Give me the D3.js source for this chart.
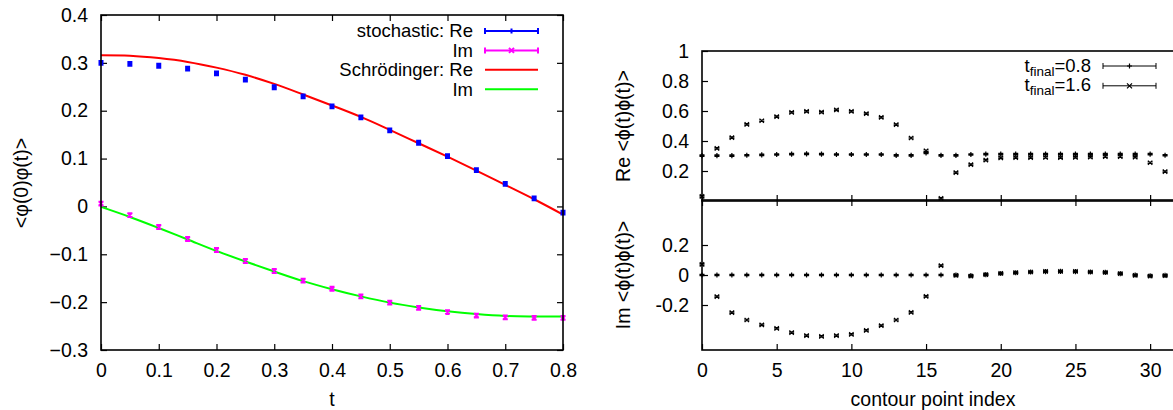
<!DOCTYPE html>
<html>
<head>
<meta charset="utf-8">
<script src="https://cdn.jsdelivr.net/npm/d3@7"></script>
<style>
  body { margin: 0; background: #fff; }
  svg { display: block; font-family: "Liberation Sans", Arial, sans-serif; }
  text { fill: #000; }
</style>
</head>
<body>
<script>
// left panel: <phi(0)phi(t)>
var tStoch = [0, 0.05, 0.1, 0.15, 0.2, 0.25, 0.3, 0.35, 0.4, 0.45, 0.5, 0.55, 0.6, 0.65, 0.7, 0.75, 0.8];
var stochRe = [0.300, 0.298, 0.294, 0.288, 0.278, 0.265, 0.249, 0.230, 0.209, 0.186, 0.159, 0.133, 0.105, 0.076, 0.047, 0.017, -0.013];
var stochIm = [0.006, -0.018, -0.043, -0.068, -0.091, -0.114, -0.135, -0.155, -0.172, -0.188, -0.201, -0.212, -0.221, -0.228, -0.232, -0.233, -0.233];
var stochErr = 0.004;
var tSchr = [0, 0.05, 0.1, 0.15, 0.2, 0.25, 0.3, 0.35, 0.4, 0.45, 0.5, 0.55, 0.6, 0.65, 0.7, 0.75, 0.8];
var schrRe = [0.316, 0.315, 0.310, 0.302, 0.290, 0.275, 0.256, 0.234, 0.211, 0.187, 0.160, 0.132, 0.104, 0.075, 0.045, 0.015, -0.017];
var schrIm = [-0.001, -0.022, -0.045, -0.069, -0.093, -0.115, -0.136, -0.156, -0.173, -0.188, -0.201, -0.211, -0.219, -0.225, -0.229, -0.230, -0.230];
var leftXTicks = [0, 0.1, 0.2, 0.3, 0.4, 0.5, 0.6, 0.7, 0.8];
var leftYTicks = [-0.3, -0.2, -0.1, 0, 0.1, 0.2, 0.3, 0.4];

// right panel: contour points
var contourIdx = d3.range(32);
var re08 = [0.302, 0.302, 0.303, 0.305, 0.307, 0.310, 0.312, 0.314, 0.312, 0.310, 0.310, 0.310, 0.310, 0.304, 0.304, 0.320, 0.304, 0.304, 0.310, 0.313, 0.313, 0.313, 0.313, 0.313, 0.313, 0.313, 0.313, 0.313, 0.313, 0.313, 0.313, 0.305];
var re16 = [0.031, 0.351, 0.422, 0.511, 0.535, 0.562, 0.591, 0.598, 0.593, 0.607, 0.598, 0.582, 0.558, 0.509, 0.420, 0.335, 0.018, 0.189, 0.242, 0.273, 0.287, 0.289, 0.289, 0.290, 0.289, 0.291, 0.293, 0.295, 0.295, 0.292, 0.255, 0.196];
var im08 = [0, 0, 0, 0, 0, 0, 0, 0, 0, 0, 0, 0, 0, 0, 0, 0, 0, 0.000, -0.004, 0.003, 0.010, 0.015, 0.020, 0.023, 0.024, 0.023, 0.020, 0.017, 0.009, 0.000, -0.005, -0.003];
var im16 = [0.071, -0.144, -0.251, -0.300, -0.333, -0.356, -0.384, -0.404, -0.409, -0.404, -0.396, -0.369, -0.338, -0.300, -0.249, -0.142, 0.062, -0.002, -0.007, 0.002, 0.011, 0.016, 0.020, 0.024, 0.024, 0.024, 0.020, 0.018, 0.009, -0.002, -0.007, -0.004];
var contourErr = 0.005;
var rightXTicks = [0, 5, 10, 15, 20, 25, 30];
var reTicks = [0.2, 0.4, 0.6, 0.8, 1];
var imTicks = [-0.2, 0, 0.2];

var width = 1173, height = 410;
var fontSize = 19.5;
var legendFont = 18.5;

var svg = d3.select('body').append('svg')
    .attr('width', width)
    .attr('height', height);

// ---------- left plot ----------
var lx = d3.scaleLinear().domain([0, 0.8]).range([101, 563]);
var ly = d3.scaleLinear().domain([-0.3, 0.4]).range([350, 15]);

function fmtLeft(d) {
    if (Math.abs(d) < 1e-9) return '0';
    return d3.format('.1f')(d);
}

var left = svg.append('g');

function tidy(g) {
    g.select('.domain').remove();
    g.selectAll('.tick line').attr('stroke', '#000').attr('stroke-width', 1.2);
    g.selectAll('.tick text').attr('font-size', fontSize).attr('font-family', null);
}

left.append('g')
    .attr('transform', 'translate(0,350)')
    .call(d3.axisBottom(lx).tickValues(leftXTicks).tickSize(-6).tickPadding(13).tickFormat(fmtLeft))
    .call(tidy);
left.append('g')
    .attr('transform', 'translate(0,15)')
    .call(d3.axisTop(lx).tickValues(leftXTicks).tickSize(-6).tickFormat(''))
    .call(tidy);
left.append('g')
    .attr('transform', 'translate(101,0)')
    .call(d3.axisLeft(ly).tickValues(leftYTicks).tickSize(-6).tickPadding(13).tickFormat(fmtLeft))
    .call(tidy);
left.append('g')
    .attr('transform', 'translate(563,0)')
    .call(d3.axisRight(ly).tickValues(leftYTicks).tickSize(-6).tickFormat(''))
    .call(tidy);

// curves
var curveRe = tSchr.map(function (t, i) { return [t, schrRe[i]]; });
var curveIm = tSchr.map(function (t, i) { return [t, schrIm[i]]; });
var line = d3.line()
    .x(function (d) { return lx(d[0]); })
    .y(function (d) { return ly(d[1]); })
    .curve(d3.curveCatmullRom);

left.append('path').datum(curveRe)
    .attr('d', line).attr('fill', 'none').attr('stroke', '#ff0000').attr('stroke-width', 2);
left.append('path').datum(curveIm)
    .attr('d', line).attr('fill', 'none').attr('stroke', '#00ff00').attr('stroke-width', 2);

// error bar point
function errPoint(g, x, y, yLo, yHi, cap, kind, size, color, sw) {
    var p = g.append('path')
        .attr('fill', 'none')
        .attr('stroke', color)
        .attr('stroke-width', sw);
    var d = 'M' + x + ',' + yLo + 'V' + yHi +
        'M' + (x - cap) + ',' + yLo + 'H' + (x + cap) +
        'M' + (x - cap) + ',' + yHi + 'H' + (x + cap);
    if (kind === 'plus') {
        d += 'M' + (x - size) + ',' + y + 'H' + (x + size) + 'M' + x + ',' + (y - size) + 'V' + (y + size);
    } else {
        d += 'M' + (x - size) + ',' + (y - size) + 'L' + (x + size) + ',' + (y + size) +
            'M' + (x - size) + ',' + (y + size) + 'L' + (x + size) + ',' + (y - size);
    }
    p.attr('d', d);
}

tStoch.forEach(function (t, i) {
    errPoint(left, lx(t), ly(stochRe[i]), ly(stochRe[i] - stochErr), ly(stochRe[i] + stochErr), 2.5, 'plus', 2.5, '#0000ff', 2);
});
tStoch.forEach(function (t, i) {
    errPoint(left, lx(t), ly(stochIm[i]), ly(stochIm[i] - stochErr), ly(stochIm[i] + stochErr), 2.5, 'cross', 2.2, '#ff00ff', 2);
});

left.append('rect')
    .attr('x', 101).attr('y', 15).attr('width', 462).attr('height', 335)
    .attr('fill', 'none').attr('stroke', '#000').attr('stroke-width', 1.6);

// legend
var legRows = [
    { label: 'stochastic: Re', color: '#0000ff', kind: 'plus' },
    { label: 'Im', color: '#ff00ff', kind: 'cross' },
    { label: 'Schrödinger: Re', color: '#ff0000', kind: null },
    { label: 'Im', color: '#00ff00', kind: null }
];
legRows.forEach(function (r, i) {
    var y = 31 + i * 19.4;
    left.append('text')
        .attr('x', 473).attr('y', y).attr('dy', '0.35em')
        .attr('text-anchor', 'end').attr('font-size', legendFont)
        .text(r.label);
    if (r.kind) {
        left.append('path')
            .attr('d', 'M485,' + y + 'H538M485,' + (y - 3) + 'V' + (y + 3) + 'M538,' + (y - 3) + 'V' + (y + 3))
            .attr('stroke', r.color).attr('stroke-width', 2).attr('fill', 'none');
        errPoint(left, 511.5, y, y, y, 0, r.kind, 2.5, r.color, 2);
    } else {
        left.append('path')
            .attr('d', 'M485,' + y + 'H538')
            .attr('stroke', r.color).attr('stroke-width', 2);
    }
});

left.append('text')
    .attr('transform', 'translate(21,183) rotate(-90)')
    .attr('text-anchor', 'middle').attr('dy', '0.35em')
    .attr('font-size', fontSize)
    .text('<φ(0)φ(t)>');
left.append('text')
    .attr('x', 332).attr('y', 406)
    .attr('text-anchor', 'middle').attr('font-size', fontSize)
    .text('t');

// ---------- right plot ----------
var rx = d3.scaleLinear().domain([0, 32]).range([702, 1180]);
var yRe = d3.scaleLinear().domain([0, 1]).range([201, 51]);
var yIm = d3.scaleLinear().domain([-0.5, 0.5]).range([350, 200]);

function fmtRight(d) {
    if (Math.abs(d) < 1e-9) return '0';
    if (Math.abs(d - 1) < 1e-9) return '1';
    return d3.format('.1f')(d).replace('\u2212', '-');
}

var right = svg.append('g');

right.append('g')
    .attr('transform', 'translate(0,201)')
    .call(d3.axisBottom(rx).tickValues(rightXTicks).tickSize(-6).tickFormat(''))
    .call(tidy);
right.append('g')
    .attr('transform', 'translate(0,200)')
    .call(d3.axisTop(rx).tickValues(rightXTicks).tickSize(-6).tickFormat(''))
    .call(tidy);
right.append('g')
    .attr('transform', 'translate(0,350)')
    .call(d3.axisBottom(rx).tickValues(rightXTicks).tickSize(-6).tickPadding(13))
    .call(tidy);
right.append('g')
    .attr('transform', 'translate(702,0)')
    .call(d3.axisLeft(yRe).tickValues(reTicks).tickSize(-6).tickPadding(13).tickFormat(fmtRight))
    .call(tidy);
right.append('g')
    .attr('transform', 'translate(702,0)')
    .call(d3.axisLeft(yIm).tickValues(imTicks).tickSize(-6).tickPadding(13).tickFormat(fmtRight))
    .call(tidy);

contourIdx.forEach(function (k) {
    errPoint(right, rx(k), yRe(re08[k]), yRe(re08[k] - contourErr), yRe(re08[k] + contourErr), 2.5, 'plus', 2.6, '#000', 1.2);
    errPoint(right, rx(k), yRe(re16[k]), yRe(re16[k] - contourErr), yRe(re16[k] + contourErr), 2.5, 'cross', 2.2, '#000', 1.2);
    errPoint(right, rx(k), yIm(im08[k]), yIm(im08[k] - contourErr), yIm(im08[k] + contourErr), 2.5, 'plus', 2.6, '#000', 1.2);
    errPoint(right, rx(k), yIm(im16[k]), yIm(im16[k] - contourErr), yIm(im16[k] + contourErr), 2.5, 'cross', 2.2, '#000', 1.2);
});

right.append('rect')
    .attr('x', 702).attr('y', 51).attr('width', 500).attr('height', 150)
    .attr('fill', 'none').attr('stroke', '#000').attr('stroke-width', 1.6);
right.append('rect')
    .attr('x', 702).attr('y', 200).attr('width', 500).attr('height', 150)
    .attr('fill', 'none').attr('stroke', '#000').attr('stroke-width', 1.6);

var legRight = [
    { val: '=0.8', kind: 'plus' },
    { val: '=1.6', kind: 'cross' }
];
legRight.forEach(function (r, i) {
    var y = 66 + i * 19.8;
    var t = right.append('text')
        .attr('x', 1091).attr('y', y).attr('dy', '0.3em')
        .attr('text-anchor', 'end').attr('font-size', legendFont);
    t.append('tspan').text('t');
    t.append('tspan').attr('font-size', 13.5).attr('dy', 4).text('final');
    t.append('tspan').attr('dy', -4).text(r.val);
    right.append('path')
        .attr('d', 'M1103,' + y + 'H1156M1103,' + (y - 3) + 'V' + (y + 3) + 'M1156,' + (y - 3) + 'V' + (y + 3))
        .attr('stroke', '#000').attr('stroke-width', 1).attr('fill', 'none');
    errPoint(right, 1129.5, y, y, y, 0, r.kind, 2.5, '#000', 1.2);
});

right.append('text')
    .attr('transform', 'translate(623,126) rotate(-90)')
    .attr('text-anchor', 'middle').attr('dy', '0.35em')
    .attr('font-size', fontSize)
    .text('Re <ϕ(t)ϕ(t)>');
right.append('text')
    .attr('transform', 'translate(623,275) rotate(-90)')
    .attr('text-anchor', 'middle').attr('dy', '0.35em')
    .attr('font-size', fontSize)
    .text('Im <ϕ(t)ϕ(t)>');
right.append('text')
    .attr('x', 933).attr('y', 406)
    .attr('text-anchor', 'middle').attr('font-size', fontSize)
    .text('contour point index');
</script>
</body>
</html>
